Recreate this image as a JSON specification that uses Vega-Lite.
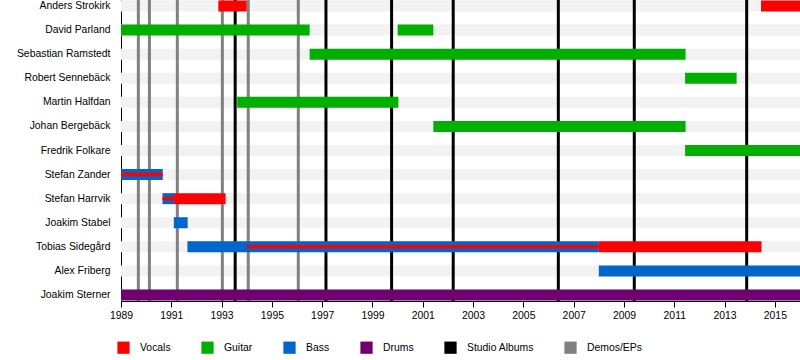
{
  "$schema": "https://vega.github.io/schema/vega-lite/v6.json",
  "autosize": {"type": "none"},
  "padding": {"left": 121, "top": 0, "right": 0, "bottom": 59},
  "width": 679,
  "height": 301,
  "background": "white",
  "config": {
    "font": "Liberation Sans",
    "view": {"stroke": null},
    "axis": {"labelColor": "black", "domainColor": "black", "tickColor": "black", "labelFontSize": 10.4}
  },
  "datasets": {
    "members": [
      {"name": "Anders Strokirk", "from": 1989, "to": 2016},
      {"name": "David Parland", "from": 1989, "to": 2016},
      {"name": "Sebastian Ramstedt", "from": 1989, "to": 2016},
      {"name": "Robert Sennebäck", "from": 1989, "to": 2016},
      {"name": "Martin Halfdan", "from": 1989, "to": 2016},
      {"name": "Johan Bergebäck", "from": 1989, "to": 2016},
      {"name": "Fredrik Folkare", "from": 1989, "to": 2016},
      {"name": "Stefan Zander", "from": 1989, "to": 2016},
      {"name": "Stefan Harrvik", "from": 1989, "to": 2016},
      {"name": "Joakim Stabel", "from": 1989, "to": 2016},
      {"name": "Tobias Sidegård", "from": 1989, "to": 2016},
      {"name": "Alex Friberg", "from": 1989, "to": 2016},
      {"name": "Joakim Sterner", "from": 1989, "to": 2016}
    ],
    "bars": [
      {"name": "Anders Strokirk", "role": "Vocals", "start": 1992.87, "end": 1994.0, "kind": "full"},
      {"name": "Anders Strokirk", "role": "Vocals", "start": 2014.45, "end": 2016, "kind": "full"},
      {"name": "David Parland", "role": "Guitar", "start": 1989, "end": 1996.5, "kind": "full"},
      {"name": "David Parland", "role": "Guitar", "start": 2000.0, "end": 2001.42, "kind": "full"},
      {"name": "Sebastian Ramstedt", "role": "Guitar", "start": 1996.5, "end": 2011.45, "kind": "full"},
      {"name": "Robert Sennebäck", "role": "Guitar", "start": 2011.43, "end": 2013.48, "kind": "full"},
      {"name": "Martin Halfdan", "role": "Guitar", "start": 1993.62, "end": 2000.03, "kind": "full"},
      {"name": "Johan Bergebäck", "role": "Guitar", "start": 2001.42, "end": 2011.45, "kind": "full"},
      {"name": "Fredrik Folkare", "role": "Guitar", "start": 2011.43, "end": 2016, "kind": "full"},
      {"name": "Stefan Zander", "role": "Bass", "start": 1989, "end": 1990.66, "kind": "full"},
      {"name": "Stefan Zander", "role": "Vocals", "start": 1989, "end": 1990.66, "kind": "thin"},
      {"name": "Stefan Harrvik", "role": "Bass", "start": 1990.65, "end": 1991.11, "kind": "full"},
      {"name": "Stefan Harrvik", "role": "Vocals", "start": 1990.65, "end": 1991.11, "kind": "thin"},
      {"name": "Stefan Harrvik", "role": "Vocals", "start": 1991.11, "end": 1993.16, "kind": "full"},
      {"name": "Joakim Stabel", "role": "Bass", "start": 1991.1, "end": 1991.65, "kind": "full"},
      {"name": "Tobias Sidegård", "role": "Bass", "start": 1991.64, "end": 2008.0, "kind": "full"},
      {"name": "Tobias Sidegård", "role": "Vocals", "start": 1994.0, "end": 2008.0, "kind": "thin"},
      {"name": "Tobias Sidegård", "role": "Vocals", "start": 2008.0, "end": 2014.47, "kind": "full"},
      {"name": "Alex Friberg", "role": "Bass", "start": 2008.0, "end": 2016, "kind": "full"},
      {"name": "Joakim Sterner", "role": "Drums", "start": 1989, "end": 2016, "kind": "full"}
    ],
    "lines": [
      {"year": 1989.69, "type": "Demos/EPs"},
      {"year": 1990.13, "type": "Demos/EPs"},
      {"year": 1991.24, "type": "Demos/EPs"},
      {"year": 1993.03, "type": "Demos/EPs"},
      {"year": 1994.06, "type": "Demos/EPs"},
      {"year": 1996.05, "type": "Demos/EPs"},
      {"year": 1993.54, "type": "Studio Albums"},
      {"year": 1997.15, "type": "Studio Albums"},
      {"year": 1999.76, "type": "Studio Albums"},
      {"year": 2002.21, "type": "Studio Albums"},
      {"year": 2006.39, "type": "Studio Albums"},
      {"year": 2009.41, "type": "Studio Albums"},
      {"year": 2013.88, "type": "Studio Albums"}
    ]
  },
  "layer": [
    {
      "data": {"name": "members"},
      "mark": {"type": "bar", "color": "#f2f2f2", "cornerRadius": 0},
      "encoding": {
        "y": {
          "field": "name",
          "type": "nominal",
          "sort": ["Anders Strokirk", "David Parland", "Sebastian Ramstedt", "Robert Sennebäck", "Martin Halfdan", "Johan Bergebäck", "Fredrik Folkare", "Stefan Zander", "Stefan Harrvik", "Joakim Stabel", "Tobias Sidegård", "Alex Friberg", "Joakim Sterner"],
          "scale": {"paddingInner": 0.543, "paddingOuter": 0.021},
          "axis": {"title": null, "ticks": false, "labelPadding": 11, "domain": true}
        },
        "x": {
          "field": "from", "type": "quantitative",
          "scale": {"domain": [1989, 2016], "nice": false, "zero": false},
          "axis": {
            "title": null,
            "values": [1989,1990,1991,1992,1993,1994,1995,1996,1997,1998,1999,2000,2001,2002,2003,2004,2005,2006,2007,2008,2009,2010,2011,2012,2013,2014,2015],
            "format": "d",
            "labelExpr": "datum.value % 2 == 1 ? datum.label : ''",
            "tickSize": {"condition": {"test": "datum.value % 2 == 1", "value": 6}, "value": 3},
            "labelPadding": 3,
            "labelFlush": false,
            "labelOverlap": false,
            "grid": false
          }
        },
        "x2": {"field": "to"}
      }
    },
    {
      "data": {"name": "lines"},
      "mark": {"type": "rule", "strokeWidth": 3},
      "encoding": {
        "x": {"field": "year", "type": "quantitative"},
        "color": {"field": "type", "type": "nominal"}
      }
    },
    {
      "data": {"name": "bars"},
      "transform": [{"filter": "datum.kind == 'full'"}],
      "mark": {"type": "bar"},
      "encoding": {
        "y": {"field": "name", "type": "nominal", "sort": ["Anders Strokirk", "David Parland", "Sebastian Ramstedt", "Robert Sennebäck", "Martin Halfdan", "Johan Bergebäck", "Fredrik Folkare", "Stefan Zander", "Stefan Harrvik", "Joakim Stabel", "Tobias Sidegård", "Alex Friberg", "Joakim Sterner"]},
        "x": {"field": "start", "type": "quantitative"},
        "x2": {"field": "end"},
        "color": {
          "field": "role",
          "type": "nominal",
          "scale": {
            "domain": ["Vocals", "Guitar", "Bass", "Drums", "Studio Albums", "Demos/EPs"],
            "range": ["#ff0000", "#00b000", "#0066cc", "#700070", "#000000", "#808080"]
          },
          "legend": {
            "title": null,
            "orient": "none",
            "direction": "horizontal",
            "legendX": -4,
            "legendY": 341,
            "symbolType": "square",
            "symbolSize": 150,
            "symbolStrokeWidth": 0,
            "symbolOpacity": 1,
            "symbolFillColor": null,
            "labelFontSize": 10.4,
            "labelOffset": 10,
            "columnPadding": 30,
            "labelColor": "black"
          }
        }
      }
    },
    {
      "data": {"name": "bars"},
      "transform": [{"filter": "datum.kind == 'thin'"}],
      "mark": {"type": "bar", "height": {"band": 0.32}},
      "encoding": {
        "y": {"field": "name", "type": "nominal", "sort": ["Anders Strokirk", "David Parland", "Sebastian Ramstedt", "Robert Sennebäck", "Martin Halfdan", "Johan Bergebäck", "Fredrik Folkare", "Stefan Zander", "Stefan Harrvik", "Joakim Stabel", "Tobias Sidegård", "Alex Friberg", "Joakim Sterner"]},
        "x": {"field": "start", "type": "quantitative"},
        "x2": {"field": "end"},
        "color": {"field": "role", "type": "nominal"}
      }
    }
  ]
}
